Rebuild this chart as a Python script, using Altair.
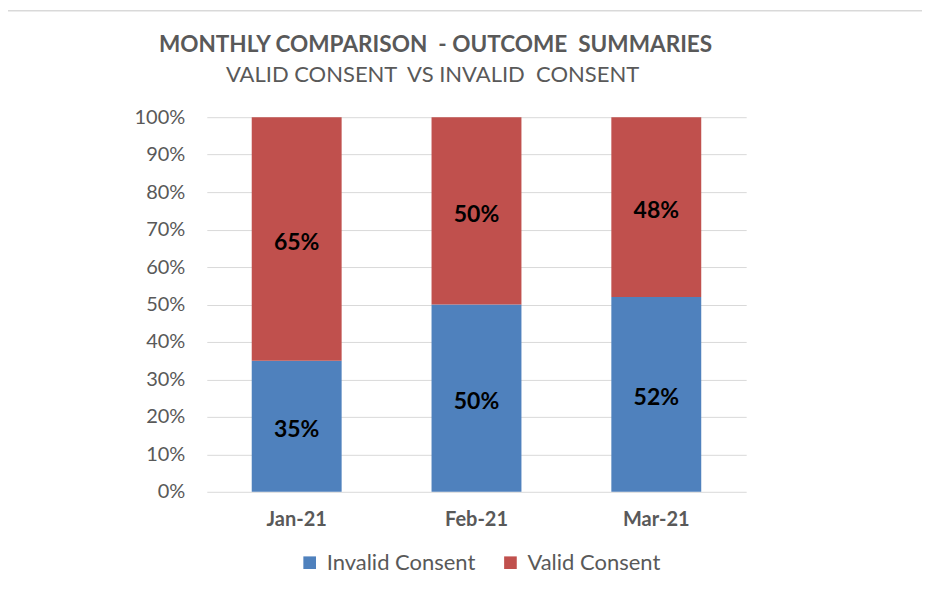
import altair as alt
import pandas as pd

months = ["Jan-21", "Feb-21", "Mar-21"]
series = ["Invalid Consent", "Valid Consent"]
invalid = [35, 50, 52]
valid = [65, 50, 48]
colors = ["#4F81BD", "#C0504D"]
y_ticks = [0, 10, 20, 30, 40, 50, 60, 70, 80, 90, 100]
title_text = "MONTHLY COMPARISON\u00a0 - OUTCOME\u00a0 SUMMARIES"
subtitle_text = "VALID CONSENT\u00a0 VS INVALID\u00a0 CONSENT"

rows = []
for i, m in enumerate(months):
    rows.append({"month": m, "series": series[0], "order": 0, "value": invalid[i]})
    rows.append({"month": m, "series": series[1], "order": 1, "value": valid[i]})
df = pd.DataFrame(rows)

FONT = "Lato"
GRAY = "#595959"

yaxis = alt.Axis(values=y_ticks, labelExpr="datum.value + '%'", labelFont=FONT,
                 labelFontSize=20, labelColor=GRAY, labelPadding=22, ticks=False,
                 domain=False, gridColor="#D9D9D9", gridWidth=1, labelOverlap=False)
xaxis = alt.Axis(labelAngle=0, labelFont=FONT, labelFontSize=20, labelFontWeight="bold",
                 labelColor=GRAY, labelPadding=18, ticks=False, domain=False)
xscale = alt.Scale(paddingInner=0.5, paddingOuter=0.25)
yscale = alt.Scale(domain=[0, 100])

base = alt.Chart(df).transform_stack(
    stack="value", groupby=["month"], sort=[alt.SortField("order")], as_=["y0", "y1"]
).transform_calculate(mid="(datum.y0 + datum.y1) / 2", label="datum.value + '%'")

bars = base.mark_bar().encode(
    x=alt.X("month:N", sort=months, title=None, scale=xscale, axis=xaxis),
    y=alt.Y("y0:Q", title=None, scale=yscale, axis=yaxis),
    y2="y1:Q",
    color=alt.Color("series:N", sort=series, scale=alt.Scale(domain=series, range=colors),
                    legend=alt.Legend(title=None, orient="none", direction="horizontal",
                                      legendX=92, legendY=435, symbolType="square", symbolSize=160,
                                      symbolStrokeWidth=0, labelFont=FONT, labelFontSize=22,
                                      labelColor=GRAY, columnPadding=24, labelOffset=6)),
)

texts = base.mark_text(font=FONT, fontSize=23, fontWeight="bold", color="#000000", dy=4).encode(
    x=alt.X("month:N", sort=months, title=None, scale=xscale, axis=xaxis),
    y=alt.Y("mid:Q", title=None, scale=yscale, axis=yaxis),
    text="label:N",
)

one = pd.DataFrame({"a": [0]})
border = alt.Chart(one).mark_rule(color="#D9D9D9", strokeWidth=1.5).encode(
    x=alt.value(-200), x2=alt.value(730), y=alt.value(-106.5)
)
border2 = alt.Chart(one).mark_rule(color="#D9D9D9", strokeWidth=1.5).encode(
    x=alt.value(-200), y=alt.value(-106.5), y2=alt.value(480)
)
title = alt.Chart(one).mark_text(font=FONT, fontSize=22.6, fontWeight="bold", color=GRAY,
                                 align="center", baseline="alphabetic").encode(
    x=alt.value(229), y=alt.value(-65), text=alt.value(title_text)
)
subtitle = alt.Chart(one).mark_text(font=FONT, fontSize=22, color=GRAY,
                                    align="center", baseline="alphabetic").encode(
    x=alt.value(226), y=alt.value(-35), text=alt.value(subtitle_text)
)

chart = alt.layer(border, border2, bars, texts, title, subtitle).properties(
    width=540, height=375,
    autosize=alt.AutoSizeParams(type="none"),
    padding={"left": 199, "top": 109, "right": 176, "bottom": 93},
).configure_view(stroke=None)

chart.save("out.html", embed_options={"renderer": "svg", "actions": False})
